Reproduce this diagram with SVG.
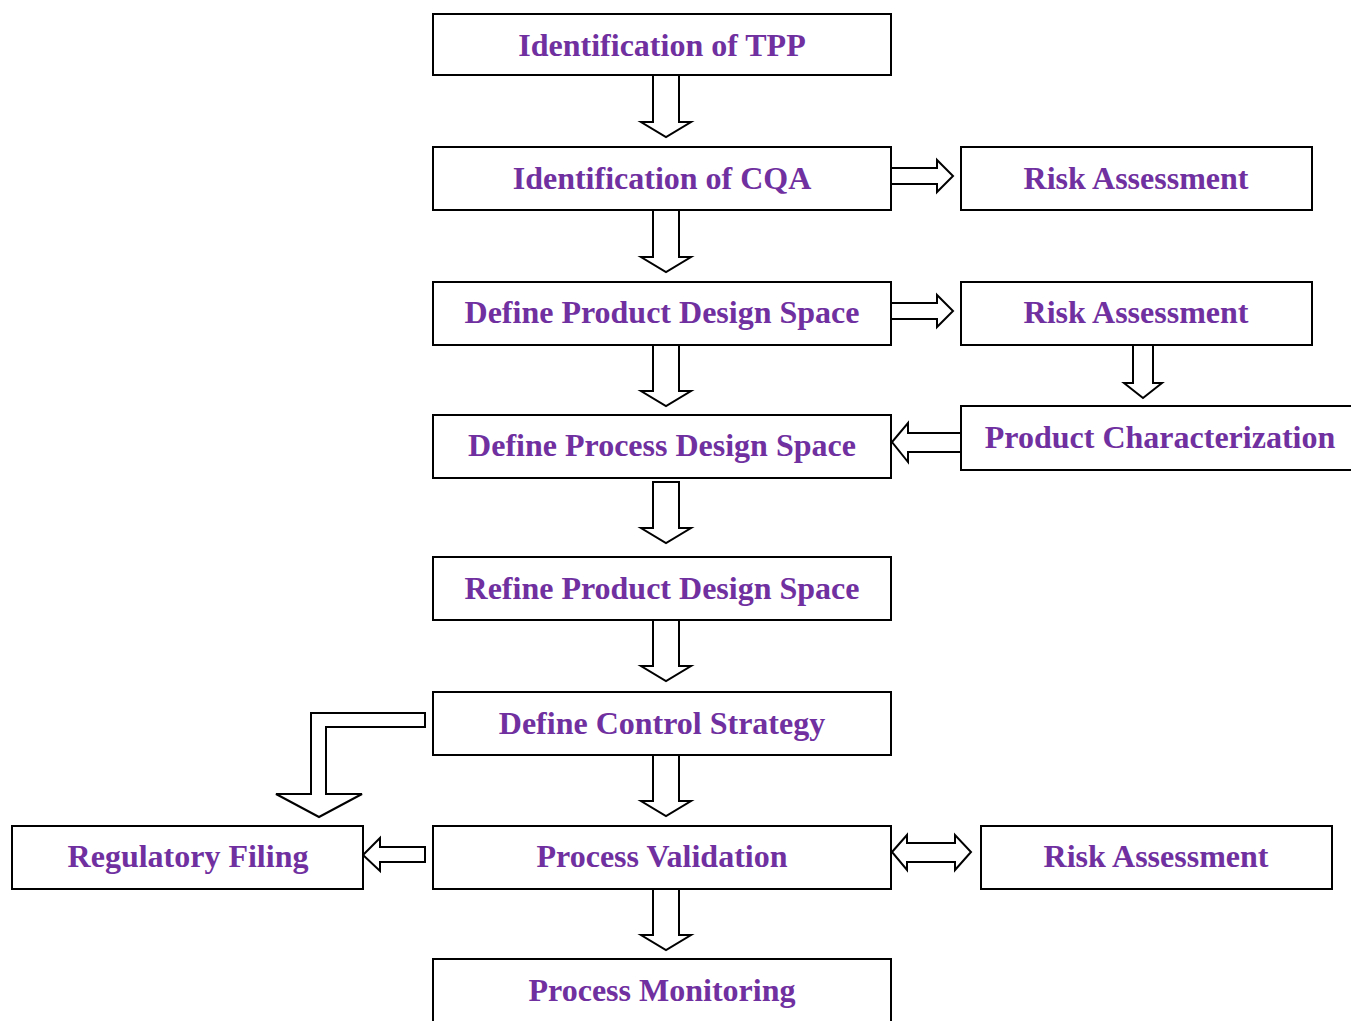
<svg xmlns="http://www.w3.org/2000/svg" width="1351" height="1021" viewBox="0 0 1351 1021">
<style>
.box{fill:#fff;stroke:#000;stroke-width:2}
.arr{fill:#fff;stroke:#000;stroke-width:2;stroke-linejoin:miter}
.t{font-family:"Liberation Serif","Times New Roman",serif;font-weight:bold;font-size:32px;fill:#7030A0;text-anchor:middle}
</style>
<rect width="1351" height="1021" fill="#fff"/>
<g id="connectors">
<path class="arr" d="M653,75 V122 H641 L666,137 L691,122 H679 V75"/>
<path class="arr" d="M653,210 V257 H641 L666,272 L691,257 H679 V210"/>
<path class="arr" d="M653,345 V391 H641 L666,406 L691,391 H679 V345"/>
<path class="arr" d="M653,482 V528 H641 L666,543 L691,528 H679 V482 Z"/>
<path class="arr" d="M653,620 V666 H641 L666,681 L691,666 H679 V620"/>
<path class="arr" d="M653,755 V801 H641 L666,816 L691,801 H679 V755"/>
<path class="arr" d="M653,889 V935 H641 L666,950 L691,935 H679 V889"/>
<path class="arr" d="M891,168 H937 V160 L953,176 L937,192 V184 H891"/>
<path class="arr" d="M891,303 H937 V295 L953,311 L937,327 V319 H891"/>
<path class="arr" d="M1133,345 V383 H1124 L1143,398 L1162,383 H1153 V345"/>
<path class="arr" d="M961,433 H908 V423 L892,442 L908,462 V452 H961"/>
<path class="arr" d="M425,713 H311 V794 H276 L319,817 L362,794 H326 V727 H425 Z"/>
<path class="arr" d="M425,847 H380 V838 L363,855 L380,871 V862 H425 Z"/>
<path class="arr" d="M892,852 L907,835 V843 H955 V835 L971,852 L955,870 V862 H907 V870 Z"/>
</g>
<g id="n1"><rect class="box" x="433" y="14" width="458" height="61"/><text class="t" x="662" y="56">Identification of TPP</text></g>
<g id="n2"><rect class="box" x="433" y="147" width="458" height="63"/><text class="t" x="662" y="189">Identification of CQA</text></g>
<g id="n3"><rect class="box" x="433" y="282" width="458" height="63"/><text class="t" x="662" y="323">Define Product Design Space</text></g>
<g id="n4"><rect class="box" x="433" y="415" width="458" height="63"/><text class="t" x="662" y="456">Define Process Design Space</text></g>
<g id="n5"><rect class="box" x="433" y="557" width="458" height="63"/><text class="t" x="662" y="599">Refine Product Design Space</text></g>
<g id="n6"><rect class="box" x="433" y="692" width="458" height="63"/><text class="t" x="662" y="734">Define Control Strategy</text></g>
<g id="n7"><rect class="box" x="433" y="826" width="458" height="63"/><text class="t" x="662" y="867">Process Validation</text></g>
<g id="n8"><rect class="box" x="433" y="959" width="458" height="70"/><text class="t" x="662" y="1001">Process Monitoring</text></g>
<g id="r1"><rect class="box" x="961" y="147" width="351" height="63"/><text class="t" x="1136" y="189">Risk Assessment</text></g>
<g id="r2"><rect class="box" x="961" y="282" width="351" height="63"/><text class="t" x="1136" y="323">Risk Assessment</text></g>
<g id="r3"><rect class="box" x="961" y="406" width="400" height="64"/><text class="t" x="1160" y="448">Product Characterization</text></g>
<g id="r4"><rect class="box" x="981" y="826" width="351" height="63"/><text class="t" x="1156" y="867">Risk Assessment</text></g>
<g id="l1"><rect class="box" x="12" y="826" width="351" height="63"/><text class="t" x="188" y="867">Regulatory Filing</text></g>
</svg>
